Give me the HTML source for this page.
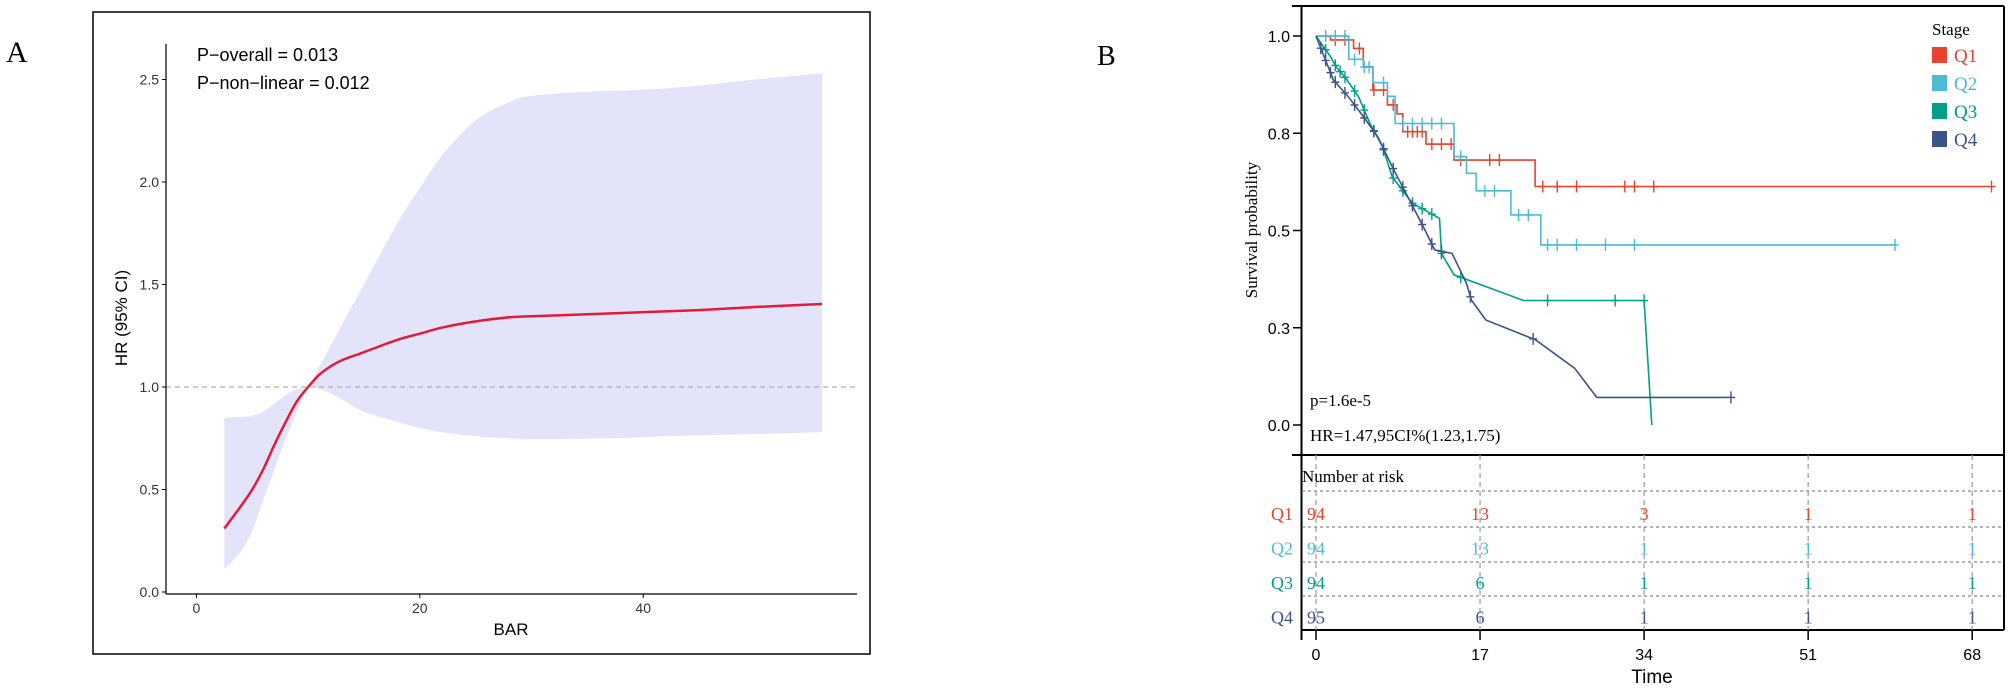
<!DOCTYPE html>
<html><head><meta charset="utf-8"><style>
html,body{margin:0;padding:0;background:#fff;}
svg{display:block;}
</style></head><body>
<svg id="fig" width="2008" height="690" viewBox="0 0 2008 690" xmlns="http://www.w3.org/2000/svg">
<g id="panelA"></g>
<g id="panelB"></g>
</svg>
<script>
// ---------- Panel A data ----------
const aX = [2.5,4,5,6,7,8,9,10,11,12,13,15,18,20,22,25,28,30,35,40,45,50,56];
const aHR = [0.31,0.42,0.5,0.6,0.72,0.83,0.93,1.0,1.06,1.1,1.13,1.17,1.23,1.26,1.29,1.32,1.34,1.345,1.355,1.365,1.375,1.39,1.405];
const aUpper = [0.85,0.855,0.86,0.88,0.92,0.96,0.99,1.0,1.1,1.2,1.3,1.5,1.8,1.97,2.13,2.3,2.39,2.42,2.44,2.45,2.47,2.5,2.53];
const aLower = [0.11,0.2,0.3,0.45,0.6,0.75,0.88,1.0,0.99,0.97,0.94,0.88,0.83,0.8,0.78,0.76,0.75,0.745,0.748,0.755,0.765,0.77,0.78];
const aXTicks = [0,20,40];
const aYTicks = [0.0,0.5,1.0,1.5,2.0,2.5];

// ---------- Panel B data ----------
const groups = ["Q1","Q2","Q3","Q4"];
const colors = ["#E8432E","#4DBBD5","#00A087","#3C5488"];
const q1T = [0,1.5,3.9,4.9,5.9,7.4,8.4,9.0,11.4,14.3,22.7,69.7];
const q1S = [1.0,0.99,0.968,0.921,0.861,0.823,0.80,0.754,0.722,0.681,0.613,0.613];
const q2T = [0,2.3,3.4,4.9,5.9,7.4,8.2,14.3,15.6,16.6,20.2,23.3,60];
const q2S = [1.0,1.0,0.94,0.92,0.88,0.845,0.775,0.69,0.647,0.602,0.54,0.463,0.463];
const q3T = [0,1.5,2.1,3.1,4.4,5.6,6.9,7.9,9.95,12.8,13.0,14.3,21.5,34.0,34.8];
const q3S = [1.0,0.947,0.92,0.891,0.844,0.775,0.715,0.638,0.571,0.531,0.441,0.386,0.32,0.32,0.0];
const q4T = [0,1.8,3.35,4.9,6.4,7.9,9.7,11.3,12.3,14.1,15.6,16.1,17.6,22.75,26.8,29.1,42.6];
const q4S = [1.0,0.887,0.844,0.793,0.741,0.664,0.578,0.501,0.45,0.441,0.364,0.321,0.27,0.219,0.146,0.071,0.071];
const q1Cens = [1,2,3,4.5,6,7,8,9.5,10,10.5,11,12,13,14,15,18,19,23.5,25,27,32,33,35,70];
const q2Cens = [1,2,3,4,5,5.5,7,9,10,11,12,13,15,17.5,18.5,21,22,24,25,27,30,33,60];
const q3Cens = [1,2,2.5,3,4,5,6,7,8,9,10,11,12,13,15,24,31,34];
const q4Cens = [0.5,1,1.5,2,3,4,5,6,7,8,9,10,11,12,13,16,22.5,43];
const riskTimes = [0,17,34,51,68];
const riskQ1 = [94,13,3,1,1];
const riskQ2 = [94,13,1,1,1];
const riskQ3 = [94,6,1,1,1];
const riskQ4 = [95,6,1,1,1];
const bYTicks = [0,0.25,0.5,0.75,1.0];
const bYLabels = ["0.0","0.3","0.5","0.8","1.0"];

const NS = "http://www.w3.org/2000/svg";
function mk(parent, tag, attrs, text){
  const e = document.createElementNS(NS, tag);
  for (const k in attrs) e.setAttribute(k, attrs[k]);
  if (text !== undefined) e.textContent = text;
  parent.appendChild(e);
  return e;
}

// ---------- Panel A ----------
const A = document.getElementById('panelA');
const ax = v => 196.4 + v*11.17;
const ay = v => 592 - v*205;
let e;
e = mk(A,'rect',{x:93,y:12,width:777,height:642,fill:'none',stroke:'#000','stroke-width':1.5});


e = mk(A,'text',{x:6,y:62,'font-family':'Liberation Serif, serif','font-size':30},'A');


function smoothPts(p){
  let s = 'M'+p[0][0]+','+p[0][1];
  for (let i=0;i<p.length-1;i++){
    const p0=p[i-1]||p[i], p1=p[i], p2=p[i+1], p3=p[i+2]||p[i+1];
    const c1=[p1[0]+(p2[0]-p0[0])/6, p1[1]+(p2[1]-p0[1])/6];
    const c2=[p2[0]-(p3[0]-p1[0])/6, p2[1]-(p3[1]-p1[1])/6];
    s += 'C'+c1.join(',')+' '+c2.join(',')+' '+p2.join(',');
  }
  return s;
}
const upPts = aX.map((x,i)=>[ax(x),ay(aUpper[i])]);
const loPts = aX.map((x,i)=>[ax(x),ay(aLower[i])]).reverse();
let d = smoothPts(upPts) + smoothPts(loPts).replace(/^M/,'L') + 'Z';
e = mk(A,'path',{d:d,fill:'#E3E3FA',stroke:'none'});


e = mk(A,'line',{x1:166,x2:857,y1:ay(1),y2:ay(1),stroke:'#b0b0b0','stroke-dasharray':'5,4','stroke-width':1.2});


e = mk(A,'path',{d:smoothPts(aX.map((x,i)=>[ax(x),ay(aHR[i])])),fill:'none',stroke:'#E41A3A','stroke-width':2.5});


e = mk(A,'line',{x1:166,x2:166,y1:44,y2:594,stroke:'#000','stroke-width':1.2});


e = mk(A,'line',{x1:166,x2:857,y1:594,y2:594,stroke:'#000','stroke-width':1.2});


aYTicks.forEach(v=>{
  mk(A,'line',{x1:162,x2:166,y1:ay(v),y2:ay(v),stroke:'#000'});
  e = mk(A,'text',{x:159,y:ay(v)+5,'text-anchor':'end','font-family':'Liberation Sans, sans-serif','font-size':14,fill:'#333'},v.toFixed(1));
  
  
});
aXTicks.forEach(v=>{
  mk(A,'line',{x1:ax(v),x2:ax(v),y1:594,y2:598,stroke:'#000'});
  e = mk(A,'text',{x:ax(v),y:613,'text-anchor':'middle','font-family':'Liberation Sans, sans-serif','font-size':14,fill:'#333'},String(v));
  
  
});
e = mk(A,'text',{x:511,y:635,'text-anchor':'middle','font-family':'Liberation Sans, sans-serif','font-size':17},'BAR');


e = mk(A,'text',{x:0,y:0,transform:'translate(127,318) rotate(-90)','text-anchor':'middle','font-family':'Liberation Sans, sans-serif','font-size':17},'HR (95% CI)');


e = mk(A,'text',{x:197,y:61,'font-family':'Liberation Sans, sans-serif','font-size':18},'P\u2212overall = 0.013');


e = mk(A,'text',{x:197,y:89,'font-family':'Liberation Sans, sans-serif','font-size':18},'P\u2212non\u2212linear = 0.012');



// ---------- Panel B ----------
const B = document.getElementById('panelB');
const bx = t => 1316 + t*9.65;
const by = s => 425 - s*389;
const serif = 'Liberation Serif, serif';
e = mk(B,'text',{x:1097,y:65,'font-family':serif,'font-size':28},'B');


[[1292,6,2004,6],[2004,6,2004,630],[1301.5,6,1301.5,640],[1292,455,2004,455],[1301.5,630,2004,630]].forEach(l=>{
  e = mk(B,'line',{x1:l[0],y1:l[1],x2:l[2],y2:l[3],stroke:'#000','stroke-width':2});
  
  
});
bYTicks.forEach((v,i)=>{
  mk(B,'line',{x1:1293,x2:1301,y1:by(v),y2:by(v),stroke:'#000','stroke-width':1.5});
  e = mk(B,'text',{x:1290,y:by(v)+6,'text-anchor':'end','font-family':'Liberation Sans, sans-serif','font-size':16},bYLabels[i]);
  
  
});
e = mk(B,'text',{x:0,y:0,transform:'translate(1257,230) rotate(-90)','text-anchor':'middle','font-family':serif,'font-size':17},'Survival probability');


const Ts=[q1T,q2T,q3T,q4T], Ss=[q1S,q2S,q3S,q4S], Cs=[q1Cens,q2Cens,q3Cens,q4Cens];
const stepStyle=[true,true,false,false];
function sAt(T,S,t,step){
  for (let i=T.length-1;i>=0;i--) if (t>=T[i]) {
    if (!step && i<T.length-1 && T[i+1]>T[i]) { const f=(t-T[i])/(T[i+1]-T[i]); return S[i]+(S[i+1]-S[i])*f; }
    return S[i];
  }
  return S[0];
}
Ts.forEach((T,g)=>{
  const S = Ss[g];
  let pts = [];
  T.forEach((t,i)=>{
    if (stepStyle[g] && i>0) pts.push(bx(t).toFixed(1)+','+by(S[i-1]).toFixed(1));
    pts.push(bx(t).toFixed(1)+','+by(S[i]).toFixed(1));
  });
  e = mk(B,'polyline',{points:pts.join(' '),fill:'none',stroke:colors[g],'stroke-width':1.6});
  
  
  Cs[g].forEach(t=>{
    const x=bx(t), y=by(sAt(T,S,t,stepStyle[g]));
    e = mk(B,'path',{d:`M${x-4},${y}H${x+4}M${x},${y-6}V${y+6}`,stroke:colors[g],'stroke-width':1.4});
    
    
  });
});
e = mk(B,'text',{x:1932,y:35,'font-family':serif,'font-size':17},'Stage');


groups.forEach((g,i)=>{
  const cy = 55 + i*28;
  e = mk(B,'rect',{x:1932,y:cy-8,width:15,height:16,fill:colors[i]});
  
  
  e = mk(B,'text',{x:1954,y:cy+7,'font-family':serif,'font-size':19,fill:colors[i]},g);
  
  
});
e = mk(B,'text',{x:1310,y:406,'font-family':serif,'font-size':17},'p=1.6e-5');


e = mk(B,'text',{x:1310,y:441,'font-family':serif,'font-size':17},'HR=1.47,95CI%(1.23,1.75)');


riskTimes.forEach(t=>{
  e = mk(B,'line',{x1:bx(t),x2:bx(t),y1:455,y2:630,stroke:'#999','stroke-dasharray':'5,4','stroke-width':1.2});
  
  
  mk(B,'line',{x1:bx(t),x2:bx(t),y1:630,y2:640,stroke:'#000','stroke-width':1.5});
  e = mk(B,'text',{x:bx(t),y:660,'text-anchor':'middle','font-family':'Liberation Sans, sans-serif','font-size':16},String(t));
  
  
});
[491,527,562,596].forEach(y=>{
  e = mk(B,'line',{x1:1302,x2:2004,y1:y,y2:y,stroke:'#888','stroke-dasharray':'3,3','stroke-width':1.2});
  
  
});
e = mk(B,'text',{x:1302,y:482,'font-family':serif,'font-size':17},'Number at risk');


const risks=[riskQ1,riskQ2,riskQ3,riskQ4];
groups.forEach((g,i)=>{
  const y = 520 + i*34.5;
  e = mk(B,'text',{x:1293,y:y,'text-anchor':'end','font-family':serif,'font-size':18,fill:colors[i]},g);
  
  
  risks[i].forEach((n,j)=>{
    e = mk(B,'text',{x:bx(riskTimes[j]),y:y,'text-anchor':'middle','font-family':serif,'font-size':18,fill:colors[i]},String(n));
    
    
  });
});
e = mk(B,'text',{x:1652,y:683,'text-anchor':'middle','font-family':'Liberation Sans, sans-serif','font-size':19},'Time');


</script>
</body></html>
